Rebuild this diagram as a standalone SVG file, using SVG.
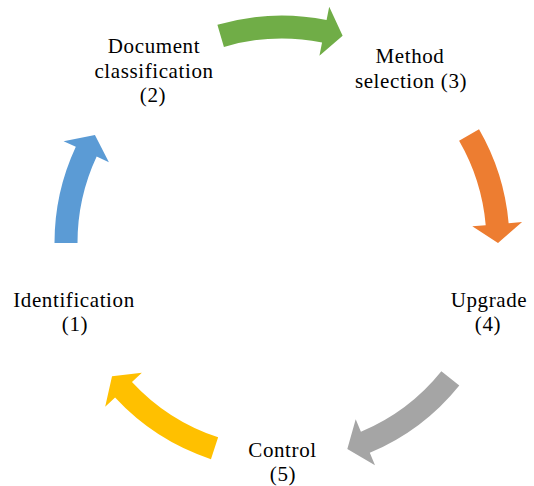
<svg xmlns="http://www.w3.org/2000/svg" width="534" height="486" viewBox="0 0 534 486">
  <style>
    .lbl { font-family: "Liberation Serif", "Times New Roman", serif; font-size: 21px; letter-spacing: 0.6px; fill: #000000; text-anchor: middle; }
    .a1 { fill: #5B9BD5; }
    .a2 { fill: #70AD47; }
    .a3 { fill: #ED7D31; }
    .a4 { fill: #A5A5A5; }
    .a5 { fill: #FFC000; }
  </style>
  <rect width="534" height="486" fill="#ffffff"/>
  <g id="connectors">
    <path class="a1" d="M54.5,243 A227.5,227.5 0 0 1 75.82,146.86 L63.58,141.15 L94.94,135 L108.9,162.28 L96.66,156.58 A204.5,204.5 0 0 0 77.5,243 Z"/>
    <path class="a2" d="M217.39,24.87 A227.5,227.5 0 0 1 326.57,19.91 L329.21,6.68 L342.63,35.68 L319.42,55.71 L322.06,42.47 A204.5,204.5 0 0 0 223.92,46.93 Z"/>
    <path class="a3" d="M479.02,129.25 A227.5,227.5 0 0 1 508.63,223.17 L522.08,221.99 L498,243 L472.27,226.35 L485.72,225.18 A204.5,204.5 0 0 0 459.1,140.75 Z"/>
    <path class="a4" d="M459.29,385.55 A227.5,227.5 0 0 1 369.79,452.87 L375,465.32 L347.32,448.89 L355.71,419.2 L360.92,431.65 A204.5,204.5 0 0 0 441.37,371.14 Z"/>
    <path class="a5" d="M210.95,459.13 A227.5,227.5 0 0 1 115.08,397.56 L105.18,406.74 L112.03,376.27 L141.86,372.77 L131.96,381.94 A204.5,204.5 0 0 0 218.13,437.28 Z"/>
  </g>
  <g id="node1">
    <text class="lbl" x="74" y="306.5">Identification</text>
    <text class="lbl" x="75" y="330.5">(1)</text>
  </g>
  <g id="node2">
    <text class="lbl" x="154" y="53">Document</text>
    <text class="lbl" x="154" y="77.5">classification</text>
    <text class="lbl" x="153" y="101.5">(2)</text>
  </g>
  <g id="node3">
    <text class="lbl" x="410" y="63">Method</text>
    <text class="lbl" x="411" y="87.5">selection (3)</text>
  </g>
  <g id="node4">
    <text class="lbl" x="489" y="306.5">Upgrade</text>
    <text class="lbl" x="488" y="330.5">(4)</text>
  </g>
  <g id="node5">
    <text class="lbl" x="282.5" y="456.5">Control</text>
    <text class="lbl" x="283" y="480.5">(5)</text>
  </g>
</svg>
